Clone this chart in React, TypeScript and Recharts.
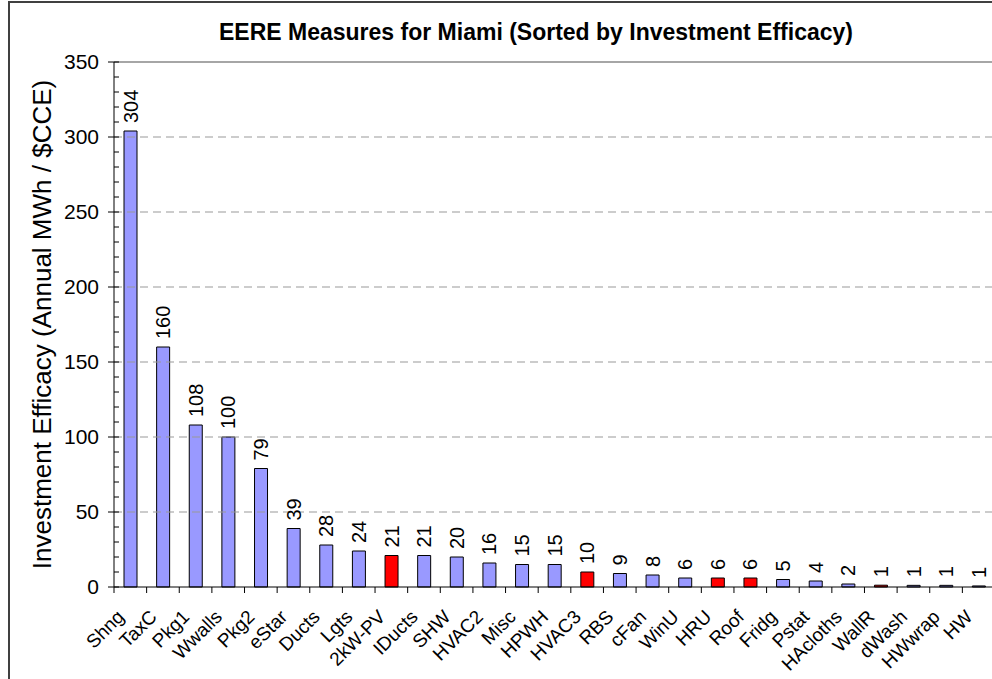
import { Bar, BarChart, Cell, LabelList, ReferenceLine, XAxis, YAxis } from "recharts";

const measures = [
  "Shng", "TaxC", "Pkg1", "Wwalls", "Pkg2", "eStar", "Ducts", "Lgts", "2kW-PV",
  "IDucts", "SHW", "HVAC2", "Misc", "HPWH", "HVAC3", "RBS", "cFan", "WinU",
  "HRU", "Roof", "Fridg", "Pstat", "HAcloths", "WallR", "dWash", "HWwrap", "HW",
];
const efficacy = [
  304, 160, 108, 100, 79, 39, 28, 24, 21, 21, 20, 16, 15, 15, 10, 9, 8, 6, 6, 6, 5, 4, 2,
  1.2, 1.1, 1.1, 0.7,
];
// measures highlighted in red
const highlighted = ["2kW-PV", "HVAC3", "HRU", "Roof", "WallR"];

const majorTicks = [0, 50, 100, 150, 200, 250, 300, 350];
const minorTicks = [
  0, 10, 20, 30, 40, 50, 60, 70, 80, 90, 100, 110, 120, 130, 140, 150, 160, 170, 180,
  190, 200, 210, 220, 230, 240, 250, 260, 270, 280, 290, 300, 310, 320, 330, 340, 350,
];
const dashedGrid = [50, 100, 150, 200, 250, 300];

const data = measures.map((name, i) => ({ name, value: efficacy[i] }));

const FONT = "'Liberation Sans', Arial, sans-serif";
const CHART_W = 1000;
const PLOT_LEFT = 114;
const PLOT_RIGHT = 995;
const BAND = (PLOT_RIGHT - PLOT_LEFT) / measures.length;

function YTick(props: any) {
  const { x, y, payload } = props;
  const major = majorTicks.includes(payload.value);
  return (
    <g>
      <line x1={major ? x - 6 : x} x2={x + 5} y1={y} y2={y} stroke="#000" />
      {major && (
        <text x={x - 15} y={y} dy={7} textAnchor="end" fontSize={21} fontFamily={FONT} fill="#000">
          {payload.value}
        </text>
      )}
    </g>
  );
}

function XTick(props: any) {
  const { x, y, payload } = props;
  const lx = x - BAND / 2;
  const ax = x - 5;
  const ay = y + 31;
  return (
    <g>
      <line x1={lx} x2={lx} y1={y} y2={y + 6} stroke="#000" />
      <text
        x={ax}
        y={ay}
        textAnchor="end"
        fontSize={19}
        fontFamily={FONT}
        fill="#000"
        transform={`rotate(-45 ${ax} ${ay})`}
      >
        {payload.value}
      </text>
    </g>
  );
}

function ValueLabel(props: any) {
  const { x, y, width, value } = props;
  const cx = x + width / 2;
  const ty = y - 8;
  return (
    <text
      x={cx}
      y={ty}
      dy={7}
      textAnchor="start"
      fontSize={20}
      fontFamily={FONT}
      fill="#000"
      transform={`rotate(-90 ${cx} ${ty})`}
    >
      {Math.round(value)}
    </text>
  );
}

export default function App() {
  return (
    <div style={{ position: "absolute", left: 0, top: 0, width: 992, height: 679, overflow: "hidden", background: "#fff" }}>
      <div
        style={{
          position: "absolute",
          left: 8,
          top: 1,
          width: 1100,
          height: 800,
          border: "2px solid #404040",
        }}
      />
      <div
        style={{
          position: "absolute",
          left: 0,
          top: 18,
          width: 1072,
          textAlign: "center",
          fontFamily: FONT,
          fontWeight: "bold",
          fontSize: 23,
          lineHeight: "28px",
        }}
      >
        EERE Measures for Miami (Sorted by Investment Efficacy)
      </div>
      <div style={{ position: "absolute", left: 0, top: 0 }}>
        <BarChart width={CHART_W} height={679} data={data} margin={{ top: 62, right: CHART_W - PLOT_RIGHT, bottom: 0, left: 0 }} barSize={13}>
          {dashedGrid.map((v) => (
            <ReferenceLine key={v} y={v} stroke="#999" strokeDasharray="8 5" />
          ))}
          <ReferenceLine y={350} stroke="#888" strokeWidth={1.5} />
          <XAxis
            dataKey="name"
            height={92}
            interval={0}
            tickSize={0}
            tickMargin={0}
            tickLine={false}
            axisLine={{ stroke: "#000" }}
            tick={<XTick />}
          />
          <YAxis
            width={PLOT_LEFT}
            domain={[0, 350]}
            ticks={minorTicks}
            interval={0}
            tickSize={0}
            tickMargin={0}
            tickLine={false}
            axisLine={{ stroke: "#000" }}
            tick={<YTick />}
            label={{
              value: "Investment Efficacy (Annual MWh / $CCE)",
              angle: -90,
              position: "center",
              dx: -15,
              fontSize: 26,
              fontFamily: FONT,
              fill: "#000",
            }}
          />
          <Bar dataKey="value" stroke="#000" strokeWidth={1} isAnimationActive={false}>
            {data.map((d) => (
              <Cell key={d.name} fill={highlighted.includes(d.name) ? "#ff0000" : "#9999ff"} />
            ))}
            <LabelList dataKey="value" content={<ValueLabel />} />
          </Bar>
        </BarChart>
      </div>
    </div>
  );
}
